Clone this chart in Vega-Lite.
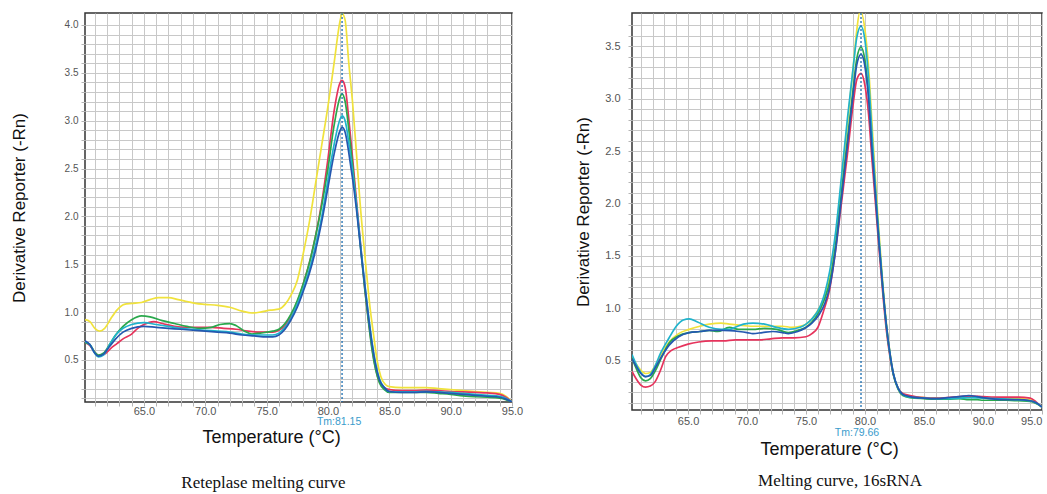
{
  "$schema": "https://vega.github.io/schema/vega-lite/v6.json",
  "padding": {"left": 9, "top": 11, "right": 4, "bottom": 4},
  "background": "white",
  "spacing": 49,
  "config": {
    "view": {"stroke": "#333333", "strokeWidth": 1.5},
    "axis": {"gridColor": "#c8c8c8", "gridWidth": 1, "domain": false, "tickColor": "#b5b5b5", "tickSize": 4, "labelColor": "#555555", "labelFont": "Liberation Sans", "titleFont": "Liberation Sans", "titleFontWeight": "normal", "titleColor": "#111111", "labelBound": false, "labelFlush": false}
  },
  "datasets": {
    "left": [
      {"s":"Y","t":60.2,"v":0.92},{"s":"Y","t":60.6,"v":0.9},{"s":"Y","t":61.0,"v":0.83},{"s":"Y","t":61.4,"v":0.8},{"s":"Y","t":61.8,"v":0.83},{"s":"Y","t":62.3,"v":0.93},{"s":"Y","t":62.8,"v":1.02},{"s":"Y","t":63.4,"v":1.08},{"s":"Y","t":64.0,"v":1.09},{"s":"Y","t":64.8,"v":1.1},{"s":"Y","t":65.5,"v":1.13},{"s":"Y","t":66.2,"v":1.15},{"s":"Y","t":67.0,"v":1.15},{"s":"Y","t":67.8,"v":1.13},{"s":"Y","t":68.5,"v":1.11},{"s":"Y","t":69.2,"v":1.09},{"s":"Y","t":70.0,"v":1.08},{"s":"Y","t":71.0,"v":1.07},{"s":"Y","t":72.0,"v":1.05},{"s":"Y","t":73.0,"v":1.01},{"s":"Y","t":73.8,"v":0.99},{"s":"Y","t":74.5,"v":1.0},{"s":"Y","t":75.3,"v":1.02},{"s":"Y","t":76.0,"v":1.03},{"s":"Y","t":76.5,"v":1.08},{"s":"Y","t":77.0,"v":1.18},{"s":"Y","t":77.5,"v":1.33},{"s":"Y","t":78.0,"v":1.62},{"s":"Y","t":78.5,"v":1.95},{"s":"Y","t":79.0,"v":2.35},{"s":"Y","t":79.5,"v":2.75},{"s":"Y","t":80.0,"v":3.15},{"s":"Y","t":80.5,"v":3.6},{"s":"Y","t":81.0,"v":4.05},{"s":"Y","t":81.15,"v":4.12},{"s":"Y","t":81.4,"v":4.05},{"s":"Y","t":81.7,"v":3.6},{"s":"Y","t":82.0,"v":3.2},{"s":"Y","t":82.3,"v":2.7},{"s":"Y","t":82.6,"v":2.17},{"s":"Y","t":83.1,"v":1.47},{"s":"Y","t":83.4,"v":1.08},{"s":"Y","t":83.7,"v":0.78},{"s":"Y","t":84.0,"v":0.5},{"s":"Y","t":84.3,"v":0.33},{"s":"Y","t":84.7,"v":0.24},{"s":"Y","t":85.0,"v":0.22},{"s":"Y","t":86,"v":0.21},{"s":"Y","t":87,"v":0.21},{"s":"Y","t":88,"v":0.21},{"s":"Y","t":89,"v":0.2},{"s":"Y","t":90,"v":0.19},{"s":"Y","t":91,"v":0.18},{"s":"Y","t":92,"v":0.17},{"s":"Y","t":93,"v":0.16},{"s":"Y","t":94,"v":0.15},{"s":"Y","t":94.5,"v":0.12},{"s":"Y","t":95,"v":0.06},
      {"s":"R","t":60.2,"v":0.68},{"s":"R","t":60.6,"v":0.65},{"s":"R","t":61.0,"v":0.58},{"s":"R","t":61.4,"v":0.54},{"s":"R","t":61.8,"v":0.56},{"s":"R","t":62.3,"v":0.62},{"s":"R","t":62.8,"v":0.67},{"s":"R","t":63.3,"v":0.72},{"s":"R","t":64.0,"v":0.77},{"s":"R","t":64.5,"v":0.83},{"s":"R","t":65.0,"v":0.87},{"s":"R","t":65.8,"v":0.9},{"s":"R","t":66.5,"v":0.88},{"s":"R","t":67.5,"v":0.85},{"s":"R","t":68.5,"v":0.84},{"s":"R","t":69.5,"v":0.84},{"s":"R","t":70.5,"v":0.84},{"s":"R","t":71.5,"v":0.83},{"s":"R","t":72.5,"v":0.82},{"s":"R","t":73.5,"v":0.8},{"s":"R","t":74.5,"v":0.79},{"s":"R","t":75.5,"v":0.79},{"s":"R","t":76.0,"v":0.81},{"s":"R","t":76.5,"v":0.86},{"s":"R","t":77.0,"v":0.96},{"s":"R","t":77.5,"v":1.1},{"s":"R","t":78.0,"v":1.3},{"s":"R","t":78.5,"v":1.52},{"s":"R","t":79.0,"v":1.8},{"s":"R","t":79.5,"v":2.15},{"s":"R","t":80.0,"v":2.6},{"s":"R","t":80.5,"v":3.1},{"s":"R","t":81.0,"v":3.4},{"s":"R","t":81.15,"v":3.42},{"s":"R","t":81.4,"v":3.35},{"s":"R","t":81.75,"v":2.95},{"s":"R","t":82.0,"v":2.62},{"s":"R","t":82.3,"v":2.2},{"s":"R","t":82.7,"v":1.65},{"s":"R","t":83.0,"v":1.25},{"s":"R","t":83.3,"v":0.92},{"s":"R","t":83.6,"v":0.62},{"s":"R","t":83.9,"v":0.4},{"s":"R","t":84.2,"v":0.27},{"s":"R","t":84.6,"v":0.21},{"s":"R","t":85.0,"v":0.19},{"s":"R","t":86,"v":0.18},{"s":"R","t":87,"v":0.18},{"s":"R","t":88,"v":0.185},{"s":"R","t":89,"v":0.18},{"s":"R","t":90,"v":0.17},{"s":"R","t":91,"v":0.165},{"s":"R","t":92,"v":0.16},{"s":"R","t":93,"v":0.155},{"s":"R","t":94,"v":0.14},{"s":"R","t":94.5,"v":0.11},{"s":"R","t":95,"v":0.06},
      {"s":"G","t":60.2,"v":0.68},{"s":"G","t":60.6,"v":0.66},{"s":"G","t":61.0,"v":0.58},{"s":"G","t":61.3,"v":0.55},{"s":"G","t":61.7,"v":0.57},{"s":"G","t":62.2,"v":0.66},{"s":"G","t":62.7,"v":0.76},{"s":"G","t":63.3,"v":0.85},{"s":"G","t":64.0,"v":0.92},{"s":"G","t":64.8,"v":0.96},{"s":"G","t":65.5,"v":0.95},{"s":"G","t":66.5,"v":0.91},{"s":"G","t":67.5,"v":0.88},{"s":"G","t":68.5,"v":0.85},{"s":"G","t":69.5,"v":0.83},{"s":"G","t":70.5,"v":0.84},{"s":"G","t":71.2,"v":0.87},{"s":"G","t":72.0,"v":0.88},{"s":"G","t":72.5,"v":0.86},{"s":"G","t":73.2,"v":0.8},{"s":"G","t":73.8,"v":0.77},{"s":"G","t":74.5,"v":0.78},{"s":"G","t":75.5,"v":0.8},{"s":"G","t":76.0,"v":0.82},{"s":"G","t":76.5,"v":0.88},{"s":"G","t":77.0,"v":0.98},{"s":"G","t":77.5,"v":1.12},{"s":"G","t":78.0,"v":1.3},{"s":"G","t":78.5,"v":1.52},{"s":"G","t":79.0,"v":1.8},{"s":"G","t":79.5,"v":2.12},{"s":"G","t":80.0,"v":2.5},{"s":"G","t":80.5,"v":2.95},{"s":"G","t":81.0,"v":3.25},{"s":"G","t":81.15,"v":3.28},{"s":"G","t":81.4,"v":3.2},{"s":"G","t":81.75,"v":2.85},{"s":"G","t":82.0,"v":2.55},{"s":"G","t":82.3,"v":2.15},{"s":"G","t":82.7,"v":1.62},{"s":"G","t":83.0,"v":1.24},{"s":"G","t":83.3,"v":0.9},{"s":"G","t":83.6,"v":0.6},{"s":"G","t":83.9,"v":0.39},{"s":"G","t":84.2,"v":0.26},{"s":"G","t":84.6,"v":0.19},{"s":"G","t":85,"v":0.16},{"s":"G","t":86,"v":0.16},{"s":"G","t":87,"v":0.16},{"s":"G","t":88,"v":0.16},{"s":"G","t":89,"v":0.15},{"s":"G","t":90,"v":0.14},{"s":"G","t":91,"v":0.125},{"s":"G","t":92,"v":0.115},{"s":"G","t":93,"v":0.11},{"s":"G","t":94,"v":0.1},{"s":"G","t":94.5,"v":0.085},{"s":"G","t":95,"v":0.06},
      {"s":"C","t":60.2,"v":0.69},{"s":"C","t":60.6,"v":0.66},{"s":"C","t":61.0,"v":0.57},{"s":"C","t":61.3,"v":0.53},{"s":"C","t":61.7,"v":0.55},{"s":"C","t":62.2,"v":0.66},{"s":"C","t":62.7,"v":0.76},{"s":"C","t":63.3,"v":0.83},{"s":"C","t":64.0,"v":0.87},{"s":"C","t":65.0,"v":0.89},{"s":"C","t":66.0,"v":0.87},{"s":"C","t":67.0,"v":0.85},{"s":"C","t":68.0,"v":0.83},{"s":"C","t":69.0,"v":0.82},{"s":"C","t":70.0,"v":0.81},{"s":"C","t":71.0,"v":0.8},{"s":"C","t":72.0,"v":0.79},{"s":"C","t":73.0,"v":0.77},{"s":"C","t":74.0,"v":0.76},{"s":"C","t":75.0,"v":0.76},{"s":"C","t":75.5,"v":0.76},{"s":"C","t":76.0,"v":0.78},{"s":"C","t":76.5,"v":0.84},{"s":"C","t":77.0,"v":0.94},{"s":"C","t":77.5,"v":1.08},{"s":"C","t":78.0,"v":1.25},{"s":"C","t":78.5,"v":1.45},{"s":"C","t":79.0,"v":1.7},{"s":"C","t":79.5,"v":2.0},{"s":"C","t":80.0,"v":2.38},{"s":"C","t":80.5,"v":2.75},{"s":"C","t":81.0,"v":3.02},{"s":"C","t":81.15,"v":3.05},{"s":"C","t":81.4,"v":3.0},{"s":"C","t":81.75,"v":2.72},{"s":"C","t":82.0,"v":2.48},{"s":"C","t":82.3,"v":2.15},{"s":"C","t":82.7,"v":1.65},{"s":"C","t":83.0,"v":1.3},{"s":"C","t":83.3,"v":0.97},{"s":"C","t":83.6,"v":0.68},{"s":"C","t":83.9,"v":0.45},{"s":"C","t":84.2,"v":0.3},{"s":"C","t":84.6,"v":0.21},{"s":"C","t":85,"v":0.17},{"s":"C","t":86,"v":0.165},{"s":"C","t":87,"v":0.165},{"s":"C","t":88,"v":0.17},{"s":"C","t":89,"v":0.165},{"s":"C","t":90,"v":0.16},{"s":"C","t":91,"v":0.15},{"s":"C","t":92,"v":0.14},{"s":"C","t":93,"v":0.13},{"s":"C","t":94,"v":0.12},{"s":"C","t":94.5,"v":0.1},{"s":"C","t":95,"v":0.06},
      {"s":"B","t":60.2,"v":0.7},{"s":"B","t":60.6,"v":0.66},{"s":"B","t":61.0,"v":0.57},{"s":"B","t":61.3,"v":0.54},{"s":"B","t":61.7,"v":0.56},{"s":"B","t":62.2,"v":0.64},{"s":"B","t":62.7,"v":0.72},{"s":"B","t":63.3,"v":0.79},{"s":"B","t":64.0,"v":0.83},{"s":"B","t":65.0,"v":0.85},{"s":"B","t":66.0,"v":0.84},{"s":"B","t":67.0,"v":0.83},{"s":"B","t":68.0,"v":0.82},{"s":"B","t":69.0,"v":0.81},{"s":"B","t":70.0,"v":0.8},{"s":"B","t":71.0,"v":0.79},{"s":"B","t":72.0,"v":0.78},{"s":"B","t":73.0,"v":0.76},{"s":"B","t":74.0,"v":0.75},{"s":"B","t":75.0,"v":0.74},{"s":"B","t":75.5,"v":0.74},{"s":"B","t":76.0,"v":0.76},{"s":"B","t":76.5,"v":0.82},{"s":"B","t":77.0,"v":0.92},{"s":"B","t":77.5,"v":1.05},{"s":"B","t":78.0,"v":1.22},{"s":"B","t":78.5,"v":1.41},{"s":"B","t":79.0,"v":1.65},{"s":"B","t":79.5,"v":1.95},{"s":"B","t":80.0,"v":2.3},{"s":"B","t":80.5,"v":2.65},{"s":"B","t":81.0,"v":2.9},{"s":"B","t":81.15,"v":2.93},{"s":"B","t":81.4,"v":2.88},{"s":"B","t":81.75,"v":2.62},{"s":"B","t":82.0,"v":2.4},{"s":"B","t":82.3,"v":2.1},{"s":"B","t":82.7,"v":1.62},{"s":"B","t":83.0,"v":1.28},{"s":"B","t":83.3,"v":0.95},{"s":"B","t":83.6,"v":0.66},{"s":"B","t":83.9,"v":0.44},{"s":"B","t":84.2,"v":0.29},{"s":"B","t":84.6,"v":0.21},{"s":"B","t":85,"v":0.17},{"s":"B","t":86,"v":0.16},{"s":"B","t":87,"v":0.16},{"s":"B","t":88,"v":0.165},{"s":"B","t":89,"v":0.16},{"s":"B","t":90,"v":0.15},{"s":"B","t":91,"v":0.14},{"s":"B","t":92,"v":0.13},{"s":"B","t":93,"v":0.12},{"s":"B","t":94,"v":0.11},{"s":"B","t":94.5,"v":0.09},{"s":"B","t":95,"v":0.06}
    ],
    "right": [
      {"s":"Y","t":60.25,"v":0.53},{"s":"Y","t":60.6,"v":0.47},{"s":"Y","t":61.0,"v":0.41},{"s":"Y","t":61.4,"v":0.38},{"s":"Y","t":61.8,"v":0.39},{"s":"Y","t":62.2,"v":0.45},{"s":"Y","t":62.7,"v":0.56},{"s":"Y","t":63.4,"v":0.68},{"s":"Y","t":64.2,"v":0.76},{"s":"Y","t":65.1,"v":0.8},{"s":"Y","t":66.0,"v":0.83},{"s":"Y","t":66.8,"v":0.85},{"s":"Y","t":67.8,"v":0.86},{"s":"Y","t":68.5,"v":0.85},{"s":"Y","t":69.3,"v":0.84},{"s":"Y","t":70.5,"v":0.83},{"s":"Y","t":71.3,"v":0.83},{"s":"Y","t":72.2,"v":0.83},{"s":"Y","t":73.0,"v":0.83},{"s":"Y","t":73.8,"v":0.82},{"s":"Y","t":74.5,"v":0.83},{"s":"Y","t":75.0,"v":0.85},{"s":"Y","t":75.5,"v":0.9},{"s":"Y","t":76.1,"v":1.0},{"s":"Y","t":76.6,"v":1.12},{"s":"Y","t":77.0,"v":1.3},{"s":"Y","t":77.5,"v":1.67},{"s":"Y","t":78.0,"v":2.2},{"s":"Y","t":78.5,"v":2.75},{"s":"Y","t":79.0,"v":3.3},{"s":"Y","t":79.3,"v":3.65},{"s":"Y","t":79.55,"v":3.82},{"s":"Y","t":79.66,"v":3.82},{"s":"Y","t":80.0,"v":3.65},{"s":"Y","t":80.3,"v":3.3},{"s":"Y","t":80.6,"v":2.75},{"s":"Y","t":80.9,"v":2.2},{"s":"Y","t":81.2,"v":1.7},{"s":"Y","t":81.5,"v":1.25},{"s":"Y","t":81.8,"v":0.87},{"s":"Y","t":82.1,"v":0.59},{"s":"Y","t":82.4,"v":0.38},{"s":"Y","t":82.8,"v":0.24},{"s":"Y","t":83.2,"v":0.18},{"s":"Y","t":83.8,"v":0.16},{"s":"Y","t":85,"v":0.15},{"s":"Y","t":86,"v":0.145},{"s":"Y","t":87,"v":0.145},{"s":"Y","t":88,"v":0.15},{"s":"Y","t":89,"v":0.155},{"s":"Y","t":90,"v":0.15},{"s":"Y","t":91,"v":0.145},{"s":"Y","t":92,"v":0.14},{"s":"Y","t":93,"v":0.14},{"s":"Y","t":94,"v":0.13},{"s":"Y","t":94.5,"v":0.1},{"s":"Y","t":95,"v":0.06},
      {"s":"R","t":60.25,"v":0.4},{"s":"R","t":60.6,"v":0.33},{"s":"R","t":61.0,"v":0.27},{"s":"R","t":61.4,"v":0.25},{"s":"R","t":61.8,"v":0.26},{"s":"R","t":62.2,"v":0.3},{"s":"R","t":62.7,"v":0.42},{"s":"R","t":63.1,"v":0.54},{"s":"R","t":63.6,"v":0.6},{"s":"R","t":64.2,"v":0.63},{"s":"R","t":65.0,"v":0.66},{"s":"R","t":65.9,"v":0.68},{"s":"R","t":67.0,"v":0.69},{"s":"R","t":68.0,"v":0.69},{"s":"R","t":69.0,"v":0.7},{"s":"R","t":70.0,"v":0.7},{"s":"R","t":71.0,"v":0.7},{"s":"R","t":72.0,"v":0.71},{"s":"R","t":73.0,"v":0.72},{"s":"R","t":74.0,"v":0.72},{"s":"R","t":75.0,"v":0.73},{"s":"R","t":75.5,"v":0.76},{"s":"R","t":76.0,"v":0.82},{"s":"R","t":76.5,"v":0.98},{"s":"R","t":77.0,"v":1.18},{"s":"R","t":77.5,"v":1.55},{"s":"R","t":78.0,"v":2.0},{"s":"R","t":78.5,"v":2.46},{"s":"R","t":79.0,"v":2.95},{"s":"R","t":79.3,"v":3.18},{"s":"R","t":79.66,"v":3.24},{"s":"R","t":80.0,"v":3.12},{"s":"R","t":80.3,"v":2.85},{"s":"R","t":80.6,"v":2.4},{"s":"R","t":80.9,"v":1.98},{"s":"R","t":81.2,"v":1.55},{"s":"R","t":81.5,"v":1.15},{"s":"R","t":81.8,"v":0.8},{"s":"R","t":82.1,"v":0.55},{"s":"R","t":82.4,"v":0.37},{"s":"R","t":82.8,"v":0.24},{"s":"R","t":83.2,"v":0.19},{"s":"R","t":83.8,"v":0.17},{"s":"R","t":85,"v":0.15},{"s":"R","t":86,"v":0.145},{"s":"R","t":87,"v":0.15},{"s":"R","t":88,"v":0.16},{"s":"R","t":89,"v":0.165},{"s":"R","t":90,"v":0.16},{"s":"R","t":91,"v":0.155},{"s":"R","t":92,"v":0.155},{"s":"R","t":93,"v":0.155},{"s":"R","t":94,"v":0.145},{"s":"R","t":94.5,"v":0.11},{"s":"R","t":95,"v":0.06},
      {"s":"G","t":60.25,"v":0.53},{"s":"G","t":60.6,"v":0.43},{"s":"G","t":61.0,"v":0.34},{"s":"G","t":61.4,"v":0.31},{"s":"G","t":61.8,"v":0.33},{"s":"G","t":62.2,"v":0.4},{"s":"G","t":62.7,"v":0.52},{"s":"G","t":63.4,"v":0.67},{"s":"G","t":64.2,"v":0.74},{"s":"G","t":65.1,"v":0.77},{"s":"G","t":66.0,"v":0.78},{"s":"G","t":66.8,"v":0.79},{"s":"G","t":67.5,"v":0.78},{"s":"G","t":68.5,"v":0.82},{"s":"G","t":69.3,"v":0.8},{"s":"G","t":70.5,"v":0.8},{"s":"G","t":71.5,"v":0.81},{"s":"G","t":72.5,"v":0.8},{"s":"G","t":73.5,"v":0.77},{"s":"G","t":74.3,"v":0.79},{"s":"G","t":75.0,"v":0.82},{"s":"G","t":75.5,"v":0.87},{"s":"G","t":76.1,"v":0.97},{"s":"G","t":76.6,"v":1.1},{"s":"G","t":77.0,"v":1.25},{"s":"G","t":77.5,"v":1.6},{"s":"G","t":78.0,"v":2.1},{"s":"G","t":78.5,"v":2.6},{"s":"G","t":79.0,"v":3.1},{"s":"G","t":79.3,"v":3.38},{"s":"G","t":79.66,"v":3.49},{"s":"G","t":80.0,"v":3.36},{"s":"G","t":80.3,"v":3.05},{"s":"G","t":80.6,"v":2.55},{"s":"G","t":80.9,"v":2.08},{"s":"G","t":81.2,"v":1.62},{"s":"G","t":81.5,"v":1.2},{"s":"G","t":81.8,"v":0.84},{"s":"G","t":82.1,"v":0.57},{"s":"G","t":82.4,"v":0.37},{"s":"G","t":82.8,"v":0.23},{"s":"G","t":83.2,"v":0.17},{"s":"G","t":83.8,"v":0.15},{"s":"G","t":85,"v":0.14},{"s":"G","t":86,"v":0.135},{"s":"G","t":87,"v":0.135},{"s":"G","t":88,"v":0.14},{"s":"G","t":88.8,"v":0.13},{"s":"G","t":89.5,"v":0.13},{"s":"G","t":90,"v":0.125},{"s":"G","t":91,"v":0.125},{"s":"G","t":92,"v":0.125},{"s":"G","t":93,"v":0.12},{"s":"G","t":94,"v":0.115},{"s":"G","t":94.5,"v":0.095},{"s":"G","t":95,"v":0.06},
      {"s":"C","t":60.25,"v":0.56},{"s":"C","t":60.6,"v":0.47},{"s":"C","t":61.0,"v":0.39},{"s":"C","t":61.4,"v":0.35},{"s":"C","t":61.8,"v":0.37},{"s":"C","t":62.2,"v":0.45},{"s":"C","t":62.7,"v":0.58},{"s":"C","t":63.4,"v":0.72},{"s":"C","t":64.0,"v":0.83},{"s":"C","t":64.6,"v":0.89},{"s":"C","t":65.1,"v":0.9},{"s":"C","t":65.8,"v":0.87},{"s":"C","t":66.8,"v":0.82},{"s":"C","t":67.8,"v":0.8},{"s":"C","t":68.5,"v":0.8},{"s":"C","t":69.0,"v":0.82},{"s":"C","t":69.7,"v":0.85},{"s":"C","t":70.5,"v":0.86},{"s":"C","t":71.5,"v":0.85},{"s":"C","t":72.5,"v":0.82},{"s":"C","t":73.5,"v":0.8},{"s":"C","t":74.5,"v":0.82},{"s":"C","t":75.0,"v":0.85},{"s":"C","t":75.5,"v":0.9},{"s":"C","t":76.2,"v":1.02},{"s":"C","t":76.6,"v":1.15},{"s":"C","t":77.0,"v":1.35},{"s":"C","t":77.5,"v":1.72},{"s":"C","t":78.0,"v":2.25},{"s":"C","t":78.5,"v":2.8},{"s":"C","t":79.0,"v":3.3},{"s":"C","t":79.3,"v":3.58},{"s":"C","t":79.66,"v":3.69},{"s":"C","t":80.0,"v":3.55},{"s":"C","t":80.3,"v":3.2},{"s":"C","t":80.6,"v":2.65},{"s":"C","t":80.9,"v":2.12},{"s":"C","t":81.2,"v":1.65},{"s":"C","t":81.5,"v":1.22},{"s":"C","t":81.8,"v":0.85},{"s":"C","t":82.1,"v":0.58},{"s":"C","t":82.4,"v":0.38},{"s":"C","t":82.8,"v":0.24},{"s":"C","t":83.2,"v":0.18},{"s":"C","t":83.8,"v":0.155},{"s":"C","t":85,"v":0.145},{"s":"C","t":86,"v":0.14},{"s":"C","t":87,"v":0.14},{"s":"C","t":88,"v":0.145},{"s":"C","t":89,"v":0.15},{"s":"C","t":90,"v":0.145},{"s":"C","t":91,"v":0.14},{"s":"C","t":92,"v":0.135},{"s":"C","t":93,"v":0.13},{"s":"C","t":94,"v":0.12},{"s":"C","t":94.5,"v":0.1},{"s":"C","t":95,"v":0.06},
      {"s":"B","t":60.25,"v":0.52},{"s":"B","t":60.6,"v":0.45},{"s":"B","t":61.0,"v":0.38},{"s":"B","t":61.4,"v":0.35},{"s":"B","t":61.8,"v":0.36},{"s":"B","t":62.2,"v":0.43},{"s":"B","t":62.7,"v":0.53},{"s":"B","t":63.4,"v":0.65},{"s":"B","t":64.2,"v":0.73},{"s":"B","t":65.1,"v":0.77},{"s":"B","t":66.0,"v":0.78},{"s":"B","t":66.8,"v":0.79},{"s":"B","t":68.0,"v":0.79},{"s":"B","t":69.3,"v":0.78},{"s":"B","t":70.0,"v":0.77},{"s":"B","t":70.5,"v":0.76},{"s":"B","t":71.3,"v":0.77},{"s":"B","t":72.2,"v":0.78},{"s":"B","t":73.0,"v":0.77},{"s":"B","t":73.5,"v":0.76},{"s":"B","t":74.3,"v":0.78},{"s":"B","t":74.9,"v":0.81},{"s":"B","t":75.5,"v":0.86},{"s":"B","t":76.1,"v":0.94},{"s":"B","t":76.6,"v":1.05},{"s":"B","t":77.0,"v":1.2},{"s":"B","t":77.5,"v":1.55},{"s":"B","t":78.0,"v":2.05},{"s":"B","t":78.5,"v":2.55},{"s":"B","t":79.0,"v":3.05},{"s":"B","t":79.3,"v":3.32},{"s":"B","t":79.66,"v":3.42},{"s":"B","t":80.0,"v":3.3},{"s":"B","t":80.3,"v":3.0},{"s":"B","t":80.6,"v":2.5},{"s":"B","t":80.9,"v":2.05},{"s":"B","t":81.2,"v":1.6},{"s":"B","t":81.5,"v":1.2},{"s":"B","t":81.8,"v":0.85},{"s":"B","t":82.1,"v":0.58},{"s":"B","t":82.4,"v":0.38},{"s":"B","t":82.8,"v":0.24},{"s":"B","t":83.2,"v":0.18},{"s":"B","t":83.8,"v":0.16},{"s":"B","t":85,"v":0.145},{"s":"B","t":86,"v":0.14},{"s":"B","t":87,"v":0.15},{"s":"B","t":88,"v":0.16},{"s":"B","t":88.8,"v":0.17},{"s":"B","t":89.5,"v":0.16},{"s":"B","t":90,"v":0.15},{"s":"B","t":91,"v":0.135},{"s":"B","t":92,"v":0.13},{"s":"B","t":93,"v":0.13},{"s":"B","t":94,"v":0.12},{"s":"B","t":94.5,"v":0.1},{"s":"B","t":95,"v":0.06}
    ]
  },
  "hconcat": [
    {
      "width": 427,
      "height": 389,
      "title": {"text": "Reteplase melting curve", "orient": "bottom", "font": "Liberation Serif", "fontSize": 17, "fontWeight": "normal", "color": "#111111", "offset": 29, "dx": -35},
      "resolve": {"axis": {"x": "independent"}},
      "layer": [
        {
          "data": {"name": "left"},
          "mark": {"type": "line", "interpolate": "monotone", "clip": true, "strokeWidth": 1.7},
          "encoding": {
            "x": {"field": "t", "type": "quantitative", "scale": {"domain": [60.2, 95], "nice": false, "zero": false},
              "axis": {"orient": "bottom", "values": [61,62,63,64,65,66,67,68,69,70,71,72,73,74,75,76,77,78,79,80,81,82,83,84,85,86,87,88,89,90,91,92,93,94,95], "labels": false, "title": null}},
            "y": {"field": "v", "type": "quantitative", "scale": {"domain": [0.06, 4.125], "nice": false, "zero": false},
              "axis": {"values": [0.1,0.2,0.3,0.4,0.5,0.6,0.7,0.8,0.9,1.0,1.1,1.2,1.3,1.4,1.5,1.6,1.7,1.8,1.9,2.0,2.1,2.2,2.3,2.4,2.5,2.6,2.7,2.8,2.9,3.0,3.1,3.2,3.3,3.4,3.5,3.6,3.7,3.8,3.9,4.0], "labelExpr": "abs(datum.value*2 - round(datum.value*2)) < 0.001 ? format(datum.value, '.1f') : ''", "labelOverlap": false, "labelFontSize": 10, "labelPadding": 3, "title": "Derivative Reporter (-Rn)", "titleFontSize": 17, "titlePadding": 36}},
            "color": {"field": "s", "type": "nominal", "scale": {"domain": ["Y","R","G","C","B"], "range": ["#f0e23c","#e6335c","#2aa84c","#1fb3cc","#2458b0"]}, "legend": null}
          }
        },
        {
          "data": {"values": [{"t": 81.15, "lab": "Tm:81.15"}]},
          "mark": {"type": "rule", "color": "#1a6db0", "strokeDash": [2, 2], "strokeWidth": 1.3},
          "encoding": {"x": {"field": "t", "type": "quantitative",
            "axis": {"orient": "bottom", "values": [65,70,75,80,85,90,95], "format": ".1f", "grid": false, "ticks": false, "labelFontSize": 11, "labelPadding": 3, "title": "Temperature (°C)", "titleFontSize": 18, "titlePadding": 12, "titleX": 186}}}
        },
        {
          "data": {"values": [{"t": 81.15, "lab": "Tm:81.15"}]},
          "mark": {"type": "text", "color": "#3a9ccc", "fontSize": 10.5, "font": "Liberation Sans", "dy": 20, "dx": -3, "baseline": "middle"},
          "encoding": {"x": {"field": "t", "type": "quantitative", "axis": null}, "y": {"value": "height"}, "text": {"field": "lab"}}
        }
      ]
    },
    {
      "width": 410,
      "height": 397,
      "title": {"text": "Melting curve, 16sRNA", "orient": "bottom", "font": "Liberation Serif", "fontSize": 17, "fontWeight": "normal", "color": "#111111", "offset": 15, "dx": 3},
      "resolve": {"axis": {"x": "independent"}},
      "layer": [
        {
          "data": {"name": "right"},
          "mark": {"type": "line", "interpolate": "monotone", "clip": true, "strokeWidth": 1.7},
          "encoding": {
            "x": {"field": "t", "type": "quantitative", "scale": {"domain": [60.25, 95], "nice": false, "zero": false},
              "axis": {"orient": "bottom", "values": [61,62,63,64,65,66,67,68,69,70,71,72,73,74,75,76,77,78,79,80,81,82,83,84,85,86,87,88,89,90,91,92,93,94,95], "labels": false, "title": null}},
            "y": {"field": "v", "type": "quantitative", "scale": {"domain": [0.032, 3.815], "nice": false, "zero": false},
              "axis": {"values": [0.1,0.2,0.3,0.4,0.5,0.6,0.7,0.8,0.9,1.0,1.1,1.2,1.3,1.4,1.5,1.6,1.7,1.8,1.9,2.0,2.1,2.2,2.3,2.4,2.5,2.6,2.7,2.8,2.9,3.0,3.1,3.2,3.3,3.4,3.5,3.6,3.7], "labelExpr": "abs(datum.value*2 - round(datum.value*2)) < 0.001 ? format(datum.value, '.1f') : ''", "labelOverlap": false, "labelFontSize": 11, "labelPadding": 8, "title": "Derivative Reporter (-Rn)", "titleFontSize": 17, "titlePadding": 12}},
            "color": {"field": "s", "type": "nominal", "scale": {"domain": ["Y","R","G","C","B"], "range": ["#f0e23c","#e6335c","#2aa84c","#1fb3cc","#2458b0"]}, "legend": null}
          }
        },
        {
          "data": {"values": [{"t": 79.66, "lab": "Tm:79.66"}]},
          "mark": {"type": "rule", "color": "#1a6db0", "strokeDash": [2, 2], "strokeWidth": 1.3},
          "encoding": {"x": {"field": "t", "type": "quantitative",
            "axis": {"orient": "bottom", "values": [65,70,75,80,85,90,95], "format": ".1f", "grid": false, "ticks": false, "labelFlush": true, "labelFontSize": 11, "labelPadding": 5, "title": "Temperature (°C)", "titleFontSize": 18, "titlePadding": 14, "titleX": 197}}}
        },
        {
          "data": {"values": [{"t": 79.66, "lab": "Tm:79.66"}]},
          "mark": {"type": "text", "color": "#3a9ccc", "fontSize": 10.5, "font": "Liberation Sans", "dy": 23, "dx": -4, "baseline": "middle"},
          "encoding": {"x": {"field": "t", "type": "quantitative", "axis": null}, "y": {"value": "height"}, "text": {"field": "lab"}}
        }
      ]
    }
  ],
  "resolve": {"scale": {"x": "independent", "y": "independent", "color": "independent"}}
}
